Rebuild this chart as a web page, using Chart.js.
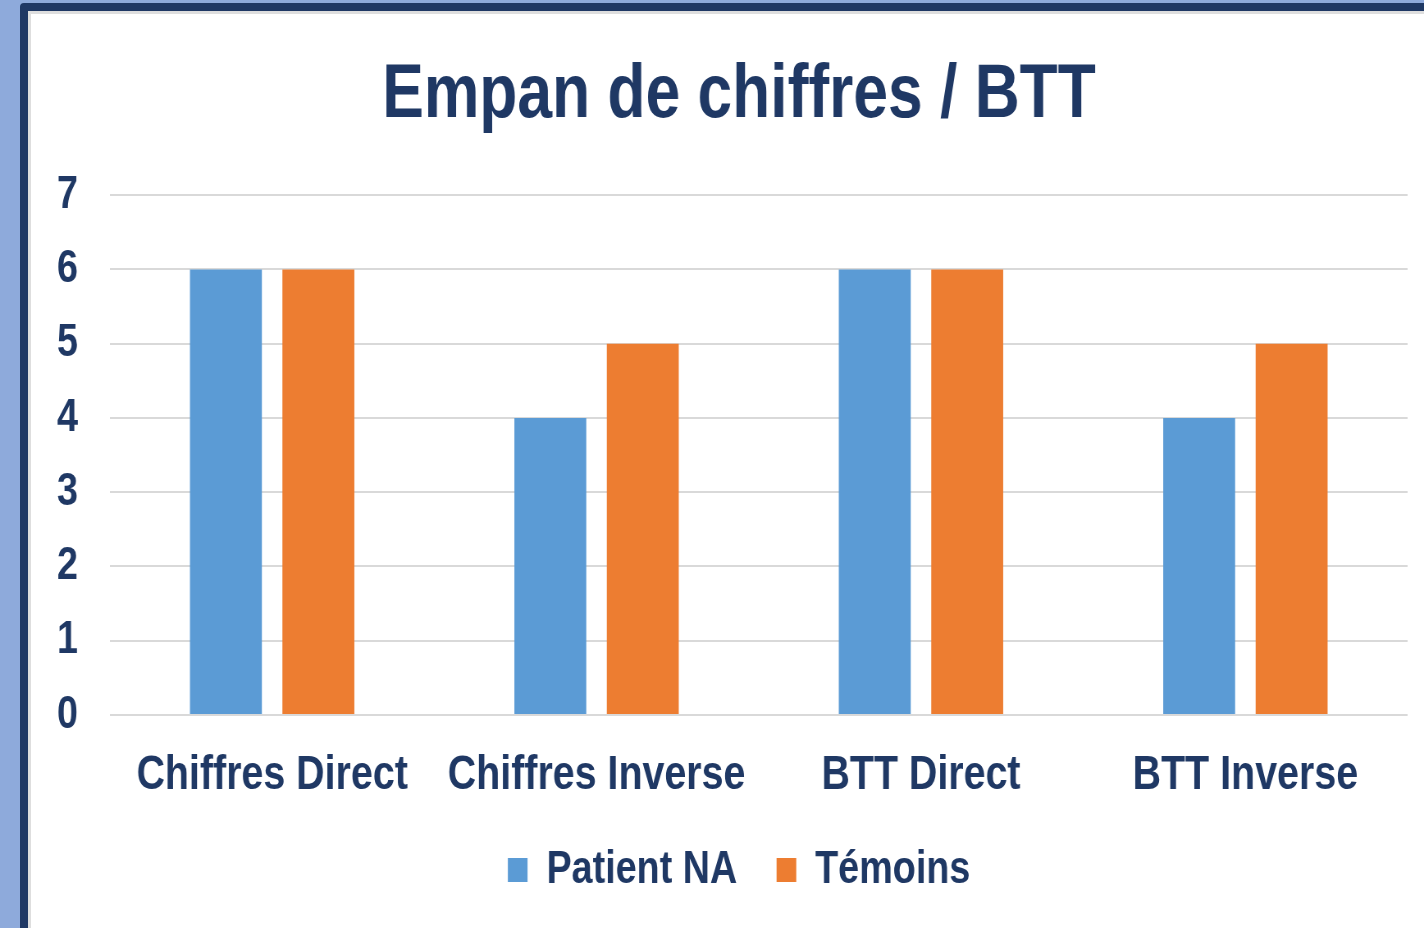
<!DOCTYPE html>
<html>
<head>
<meta charset="utf-8">
<script src="https://cdn.jsdelivr.net/npm/chart.js@4/dist/chart.umd.min.js"></script>
<style>
  html, body { margin: 0; padding: 0; }
  body { width: 1424px; height: 928px; overflow: hidden; background: #8eaadb; position: relative; }
  #frame { position: absolute; left: 20px; top: 3px; width: 1440px; height: 960px;
           border: 8px solid #1f3864; border-radius: 4px; background: #ffffff;
           box-shadow: inset 3px 3px 0 #dedede; }
  #c { position: absolute; left: 0; top: 0; }
</style>
</head>
<body>
<div id="frame"></div>
<!-- canvas is drawn wider and shown condensed to imitate the narrow bold typeface of the original -->
<canvas id="c" width="1736" height="928" style="width:1424px;height:928px;"></canvas>
<script>
const categories = ["Chiffres Direct", "Chiffres Inverse", "BTT Direct", "BTT Inverse"];
const patientNA = [6, 4, 6, 4];
const temoins = [6, 5, 6, 5];
const seriesNames = ["Patient NA", "Témoins"];
const yTicks = [0, 1, 2, 3, 4, 5, 6, 7];
const titleText = "Empan de chiffres / BTT";

const FONT = "'Liberation Sans', Arial, sans-serif";
const NAVY = "#1f3864";

new Chart(document.getElementById("c"), {
  type: "bar",
  data: {
    labels: categories,
    datasets: [
      { label: seriesNames[0], data: patientNA, backgroundColor: "#5b9bd5", barPercentage: 0.778, categoryPercentage: 0.57 },
      { label: seriesNames[1], data: temoins, backgroundColor: "#ed7d31", barPercentage: 0.778, categoryPercentage: 0.57 }
    ]
  },
  options: {
    responsive: false,
    animation: false,
    devicePixelRatio: 1,
    layout: { padding: { left: 66, right: 0, top: 0, bottom: 25 } },
    plugins: {
      title: {
        display: true, text: titleText, color: NAVY,
        font: { family: FONT, size: 76, weight: "bold" },
        padding: { top: 50, bottom: 54 }
      },
      legend: {
        position: "bottom",
        labels: {
          color: NAVY, font: { family: FONT, size: 46, weight: "bold" },
          boxWidth: 24, boxHeight: 24, padding: 48
        }
      },
      tooltip: { enabled: false }
    },
    scales: {
      x: {
        grid: { display: false },
        border: { display: false },
        afterFit: (s) => { s.height = 84; },
        ticks: { color: NAVY, font: { family: FONT, size: 48, weight: "bold" }, padding: 24, maxRotation: 0, autoSkip: false }
      },
      y: {
        min: 0, max: 7,
        afterFit: (s) => { s.width = 68; },
        afterBuildTicks: (s) => { s.ticks = yTicks.map(v => ({ value: v })); },
        grid: { color: "#d9d9d9", lineWidth: 2, drawTicks: false },
        border: { display: false },
        ticks: { color: NAVY, font: { family: FONT, size: 46, weight: "bold" }, padding: 39 }
      },
      y2: {
        position: "right", min: 0, max: 1,
        afterFit: (s) => { s.width = 20; },
        grid: { display: false },
        border: { display: false },
        ticks: { display: false }
      }
    }
  }
});
</script>
</body>
</html>
